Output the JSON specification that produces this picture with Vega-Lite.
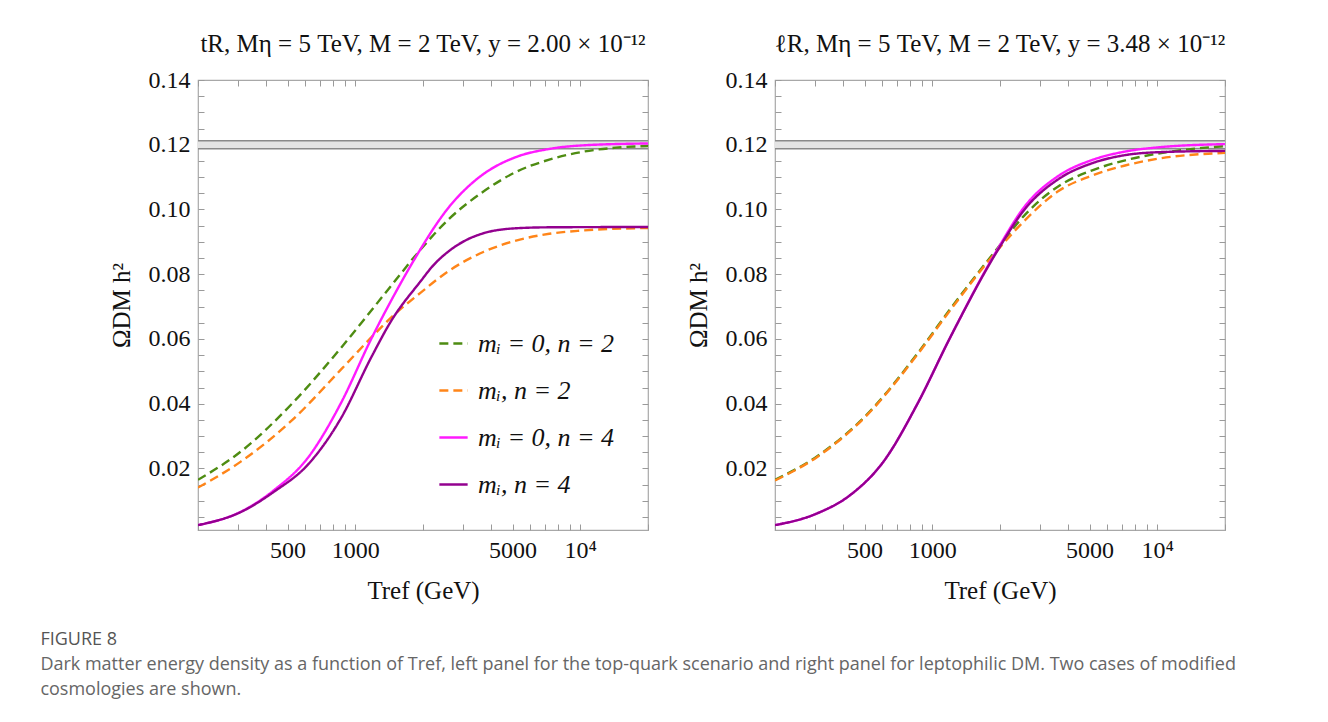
{
  "$schema": "https://vega.github.io/schema/vega-lite/v6.json",
  "background": "white",
  "padding": {"left": 40, "top": 31, "right": 5, "bottom": 5},
  "spacing": 29,
  "config": {
    "font": "Liberation Serif",
    "view": {"stroke": "#a8a8a8", "strokeWidth": 1.2},
    "axis": {
      "domain": false,
      "grid": false,
      "tickColor": "#9a9a9a",
      "tickWidth": 1,
      "tickSize": -6,
      "labelFont": "Liberation Serif",
      "labelFontSize": 24,
      "labelColor": "#111",
      "titleFont": "Liberation Serif",
      "titleFontSize": 25,
      "titleFontWeight": "normal",
      "titleColor": "#111",
      "labelOverlap": false
    },
    "title": {"font": "Liberation Serif", "fontSize": 25, "fontWeight": "normal", "color": "#111"}
  },
  "title": {
    "text": "FIGURE 8",
    "subtitle": ["Dark matter energy density as a function of Tref, left panel for the top-quark scenario and right panel for leptophilic DM. Two cases of modified", "cosmologies are shown."],
    "orient": "bottom",
    "anchor": "start",
    "dx": -68,
    "offset": 27,
    "font": "Open Sans",
    "fontSize": 18,
    "fontWeight": "normal",
    "color": "#555",
    "subtitleFont": "Open Sans",
    "subtitleFontSize": 18,
    "subtitleColor": "#666",
    "subtitleLineHeight": 25,
    "subtitlePadding": 7
  },
  "datasets": {
    "band": [{"lo": 0.1188, "hi": 0.1212}],
    "edges": [{"v": 0.1188}, {"v": 0.1212}],
    "left": [
      {"T": 200, "v": 0.0165, "s": "g"}, {"T": 311, "v": 0.0253, "s": "g"}, {"T": 518, "v": 0.0397, "s": "g"}, {"T": 865, "v": 0.0573, "s": "g"}, {"T": 1442, "v": 0.0764, "s": "g"}, {"T": 1960, "v": 0.0878, "s": "g"}, {"T": 2612, "v": 0.0971, "s": "g"}, {"T": 3688, "v": 0.1054, "s": "g"}, {"T": 5180, "v": 0.1116, "s": "g"}, {"T": 7280, "v": 0.1154, "s": "g"}, {"T": 10200, "v": 0.1178, "s": "g"}, {"T": 14400, "v": 0.1191, "s": "g"}, {"T": 20000, "v": 0.1196, "s": "g"},
      {"T": 200, "v": 0.0141, "s": "o"}, {"T": 311, "v": 0.0222, "s": "o"}, {"T": 518, "v": 0.0346, "s": "o"}, {"T": 865, "v": 0.0506, "s": "o"}, {"T": 1175, "v": 0.0604, "s": "o"}, {"T": 1442, "v": 0.0666, "s": "o"}, {"T": 1960, "v": 0.0744, "s": "o"}, {"T": 2612, "v": 0.0811, "s": "o"}, {"T": 3688, "v": 0.0868, "s": "o"}, {"T": 5180, "v": 0.0904, "s": "o"}, {"T": 7280, "v": 0.0925, "s": "o"}, {"T": 10200, "v": 0.0935, "s": "o"}, {"T": 20000, "v": 0.0943, "s": "o"},
      {"T": 200, "v": 0.0025, "s": "m"}, {"T": 311, "v": 0.0067, "s": "m"}, {"T": 437, "v": 0.0134, "s": "m"}, {"T": 614, "v": 0.0232, "s": "m"}, {"T": 865, "v": 0.0403, "s": "m"}, {"T": 1175, "v": 0.0599, "s": "m"}, {"T": 1442, "v": 0.0718, "s": "m"}, {"T": 1960, "v": 0.088, "s": "m"}, {"T": 2206, "v": 0.0937, "s": "m"}, {"T": 2612, "v": 0.1008, "s": "m"}, {"T": 3100, "v": 0.1064, "s": "m"}, {"T": 3688, "v": 0.1108, "s": "m"}, {"T": 5180, "v": 0.1162, "s": "m"}, {"T": 7280, "v": 0.1187, "s": "m"}, {"T": 10200, "v": 0.1198, "s": "m"}, {"T": 20000, "v": 0.1204, "s": "m"},
      {"T": 200, "v": 0.0025, "s": "p"}, {"T": 311, "v": 0.0066, "s": "p"}, {"T": 437, "v": 0.0129, "s": "p"}, {"T": 614, "v": 0.0211, "s": "p"}, {"T": 865, "v": 0.0356, "s": "p"}, {"T": 1175, "v": 0.0542, "s": "p"}, {"T": 1442, "v": 0.0655, "s": "p"}, {"T": 1960, "v": 0.078, "s": "p"}, {"T": 2206, "v": 0.0825, "s": "p"}, {"T": 2612, "v": 0.0872, "s": "p"}, {"T": 3100, "v": 0.0905, "s": "p"}, {"T": 3688, "v": 0.0926, "s": "p"}, {"T": 5180, "v": 0.0942, "s": "p"}, {"T": 7280, "v": 0.0945, "s": "p"}, {"T": 20000, "v": 0.0946, "s": "p"}
    ],
    "right": [
      {"T": 200, "v": 0.0165, "s": "g"}, {"T": 307, "v": 0.0237, "s": "g"}, {"T": 513, "v": 0.0367, "s": "g"}, {"T": 855, "v": 0.0553, "s": "g"}, {"T": 1200, "v": 0.0692, "s": "g"}, {"T": 1938, "v": 0.0878, "s": "g"}, {"T": 2592, "v": 0.0985, "s": "g"}, {"T": 3640, "v": 0.1072, "s": "g"}, {"T": 5140, "v": 0.1121, "s": "g"}, {"T": 7200, "v": 0.1152, "s": "g"}, {"T": 10100, "v": 0.1173, "s": "g"}, {"T": 20000, "v": 0.1196, "s": "g"},
      {"T": 200, "v": 0.0163, "s": "o"}, {"T": 307, "v": 0.0235, "s": "o"}, {"T": 513, "v": 0.0365, "s": "o"}, {"T": 855, "v": 0.055, "s": "o"}, {"T": 1200, "v": 0.0688, "s": "o"}, {"T": 1938, "v": 0.0872, "s": "o"}, {"T": 2592, "v": 0.0968, "s": "o"}, {"T": 3640, "v": 0.1057, "s": "o"}, {"T": 5140, "v": 0.1105, "s": "o"}, {"T": 7200, "v": 0.1136, "s": "o"}, {"T": 10100, "v": 0.1157, "s": "o"}, {"T": 20000, "v": 0.1175, "s": "o"},
      {"T": 200, "v": 0.0025, "s": "m"}, {"T": 307, "v": 0.0061, "s": "m"}, {"T": 432, "v": 0.0118, "s": "m"}, {"T": 608, "v": 0.0222, "s": "m"}, {"T": 855, "v": 0.0397, "s": "m"}, {"T": 1200, "v": 0.0604, "s": "m"}, {"T": 1938, "v": 0.0874, "s": "m"}, {"T": 2592, "v": 0.1012, "s": "m"}, {"T": 3640, "v": 0.1104, "s": "m"}, {"T": 5140, "v": 0.1153, "s": "m"}, {"T": 7200, "v": 0.1179, "s": "m"}, {"T": 10100, "v": 0.1192, "s": "m"}, {"T": 20000, "v": 0.1202, "s": "m"},
      {"T": 200, "v": 0.0025, "s": "p"}, {"T": 307, "v": 0.0061, "s": "p"}, {"T": 432, "v": 0.0118, "s": "p"}, {"T": 608, "v": 0.0222, "s": "p"}, {"T": 855, "v": 0.0397, "s": "p"}, {"T": 1200, "v": 0.0604, "s": "p"}, {"T": 1938, "v": 0.087, "s": "p"}, {"T": 2592, "v": 0.1003, "s": "p"}, {"T": 3640, "v": 0.1094, "s": "p"}, {"T": 5140, "v": 0.1143, "s": "p"}, {"T": 7200, "v": 0.1168, "s": "p"}, {"T": 10100, "v": 0.1177, "s": "p"}, {"T": 20000, "v": 0.1181, "s": "p"}
    ]
  },
  "hconcat": [
    {
      "width": 450,
      "height": 450,
      "title": {"text": "tR,  Mη = 5 TeV,  M = 2 TeV,  y = 2.00 × 10⁻¹²", "offset": 11},
      "resolve": {"axis": {"x": "independent", "y": "independent"}},
      "layer": [
        {
          "data": {"name": "band"},
          "mark": {"type": "rect", "color": "#e4e4e4"},
          "encoding": {
            "x": {"datum": 200, "type": "quantitative", "scale": {"type": "log", "domain": [200, 20000], "nice": false}, "axis": {"orient": "top", "labels": false, "title": null, "values": [200, 300, 400, 500, 600, 700, 800, 900, 1000, 2000, 3000, 4000, 5000, 6000, 7000, 8000, 9000, 10000, 20000]}},
            "x2": {"datum": 20000},
            "y": {"field": "lo", "type": "quantitative", "scale": {"domain": [0.001, 0.14], "nice": false, "zero": false}, "axis": {"orient": "right", "labels": false, "title": null, "values": [0.005, 0.01, 0.015, 0.02, 0.025, 0.03, 0.035, 0.04, 0.045, 0.05, 0.055, 0.06, 0.065, 0.07, 0.075, 0.08, 0.085, 0.09, 0.095, 0.1, 0.105, 0.11, 0.115, 0.12, 0.125, 0.13, 0.135, 0.14]}},
            "y2": {"field": "hi"}
          }
        },
        {
          "data": {"name": "edges"},
          "mark": {"type": "rule", "color": "#8a8a8a", "strokeWidth": 1.5},
          "encoding": {"y": {"field": "v", "type": "quantitative", "axis": null}}
        },
        {
          "data": {"name": "left"},
          "mark": {"type": "line", "strokeWidth": 2.4, "interpolate": "monotone", "clip": true},
          "encoding": {
            "x": {"field": "T", "type": "quantitative", "scale": {"type": "log", "domain": [200, 20000], "nice": false}, "axis": {"orient": "bottom", "title": "Tref (GeV)", "titlePadding": 16, "labelPadding": 14, "values": [200, 300, 400, 500, 600, 700, 800, 900, 1000, 2000, 3000, 4000, 5000, 6000, 7000, 8000, 9000, 10000, 20000], "labelExpr": "datum.value == 500 ? '500' : datum.value == 1000 ? '1000' : datum.value == 5000 ? '5000' : datum.value == 10000 ? '10⁴' : ''"}},
            "y": {"field": "v", "type": "quantitative", "scale": {"domain": [0.001, 0.14], "nice": false, "zero": false}, "axis": {"orient": "left", "title": "ΩDM h²", "titlePadding": 14, "labelPadding": 14, "values": [0.005, 0.01, 0.015, 0.02, 0.025, 0.03, 0.035, 0.04, 0.045, 0.05, 0.055, 0.06, 0.065, 0.07, 0.075, 0.08, 0.085, 0.09, 0.095, 0.1, 0.105, 0.11, 0.115, 0.12, 0.125, 0.13, 0.135, 0.14], "labelExpr": "abs(datum.value * 50 - round(datum.value * 50)) < 0.001 ? format(datum.value, '.2f') : ''"}},
            "color": {"field": "s", "type": "nominal", "scale": {"domain": ["g", "o", "m", "p"], "range": ["#4e8c12", "#ff8519", "#ff1aff", "#93008f"]}, "legend": {"orient": "none", "legendX": 240, "legendY": 248, "title": null, "labelExpr": "datum.value == 'g' ? 'mᵢ = 0, n = 2' : datum.value == 'o' ? 'mᵢ, n = 2' : datum.value == 'm' ? 'mᵢ = 0, n = 4' : 'mᵢ, n = 4'", "labelFont": "Liberation Serif", "labelFontSize": 26, "labelFontStyle": "italic", "labelColor": "#111", "symbolType": "stroke", "symbolSize": 800, "symbolStrokeWidth": 2.5, "rowPadding": 18, "labelOffset": 9}},
            "strokeDash": {"field": "s", "type": "nominal", "scale": {"domain": ["g", "o", "m", "p"], "range": [[9, 5], [9, 5], [1, 0], [1, 0]]}, "legend": {"orient": "none", "legendX": 240, "legendY": 248, "title": null, "labelExpr": "datum.value == 'g' ? 'mᵢ = 0, n = 2' : datum.value == 'o' ? 'mᵢ, n = 2' : datum.value == 'm' ? 'mᵢ = 0, n = 4' : 'mᵢ, n = 4'", "labelFont": "Liberation Serif", "labelFontSize": 26, "labelFontStyle": "italic", "labelColor": "#111", "symbolType": "stroke", "symbolSize": 800, "symbolStrokeWidth": 2.5, "rowPadding": 18, "labelOffset": 9}}
          }
        }
      ]
    },
    {
      "width": 450,
      "height": 450,
      "title": {"text": "ℓR,  Mη = 5 TeV,  M = 2 TeV,  y = 3.48 × 10⁻¹²", "offset": 11},
      "resolve": {"axis": {"x": "independent", "y": "independent"}},
      "layer": [
        {
          "data": {"name": "band"},
          "mark": {"type": "rect", "color": "#e4e4e4"},
          "encoding": {
            "x": {"datum": 200, "type": "quantitative", "scale": {"type": "log", "domain": [200, 20000], "nice": false}, "axis": {"orient": "top", "labels": false, "title": null, "values": [200, 300, 400, 500, 600, 700, 800, 900, 1000, 2000, 3000, 4000, 5000, 6000, 7000, 8000, 9000, 10000, 20000]}},
            "x2": {"datum": 20000},
            "y": {"field": "lo", "type": "quantitative", "scale": {"domain": [0.001, 0.14], "nice": false, "zero": false}, "axis": {"orient": "right", "labels": false, "title": null, "values": [0.005, 0.01, 0.015, 0.02, 0.025, 0.03, 0.035, 0.04, 0.045, 0.05, 0.055, 0.06, 0.065, 0.07, 0.075, 0.08, 0.085, 0.09, 0.095, 0.1, 0.105, 0.11, 0.115, 0.12, 0.125, 0.13, 0.135, 0.14]}},
            "y2": {"field": "hi"}
          }
        },
        {
          "data": {"name": "edges"},
          "mark": {"type": "rule", "color": "#8a8a8a", "strokeWidth": 1.5},
          "encoding": {"y": {"field": "v", "type": "quantitative", "axis": null}}
        },
        {
          "data": {"name": "right"},
          "mark": {"type": "line", "strokeWidth": 2.4, "interpolate": "monotone", "clip": true},
          "encoding": {
            "x": {"field": "T", "type": "quantitative", "scale": {"type": "log", "domain": [200, 20000], "nice": false}, "axis": {"orient": "bottom", "title": "Tref (GeV)", "titlePadding": 16, "labelPadding": 14, "values": [200, 300, 400, 500, 600, 700, 800, 900, 1000, 2000, 3000, 4000, 5000, 6000, 7000, 8000, 9000, 10000, 20000], "labelExpr": "datum.value == 500 ? '500' : datum.value == 1000 ? '1000' : datum.value == 5000 ? '5000' : datum.value == 10000 ? '10⁴' : ''"}},
            "y": {"field": "v", "type": "quantitative", "scale": {"domain": [0.001, 0.14], "nice": false, "zero": false}, "axis": {"orient": "left", "title": "ΩDM h²", "titlePadding": 14, "labelPadding": 14, "values": [0.005, 0.01, 0.015, 0.02, 0.025, 0.03, 0.035, 0.04, 0.045, 0.05, 0.055, 0.06, 0.065, 0.07, 0.075, 0.08, 0.085, 0.09, 0.095, 0.1, 0.105, 0.11, 0.115, 0.12, 0.125, 0.13, 0.135, 0.14], "labelExpr": "abs(datum.value * 50 - round(datum.value * 50)) < 0.001 ? format(datum.value, '.2f') : ''"}},
            "color": {"field": "s", "type": "nominal", "scale": {"domain": ["g", "o", "m", "p"], "range": ["#4e8c12", "#ff8519", "#ff1aff", "#93008f"]}, "legend": {"orient": "none", "legendX": 240, "legendY": 248, "title": null, "labelExpr": "datum.value == 'g' ? 'mᵢ = 0, n = 2' : datum.value == 'o' ? 'mᵢ, n = 2' : datum.value == 'm' ? 'mᵢ = 0, n = 4' : 'mᵢ, n = 4'", "labelFont": "Liberation Serif", "labelFontSize": 26, "labelFontStyle": "italic", "labelColor": "#111", "symbolType": "stroke", "symbolSize": 800, "symbolStrokeWidth": 2.5, "rowPadding": 18, "labelOffset": 9}},
            "strokeDash": {"field": "s", "type": "nominal", "scale": {"domain": ["g", "o", "m", "p"], "range": [[9, 5], [9, 5], [1, 0], [1, 0]]}, "legend": {"orient": "none", "legendX": 240, "legendY": 248, "title": null, "labelExpr": "datum.value == 'g' ? 'mᵢ = 0, n = 2' : datum.value == 'o' ? 'mᵢ, n = 2' : datum.value == 'm' ? 'mᵢ = 0, n = 4' : 'mᵢ, n = 4'", "labelFont": "Liberation Serif", "labelFontSize": 26, "labelFontStyle": "italic", "labelColor": "#111", "symbolType": "stroke", "symbolSize": 800, "symbolStrokeWidth": 2.5, "rowPadding": 18, "labelOffset": 9}}
          }
        }
      ]
    }
  ]
}
